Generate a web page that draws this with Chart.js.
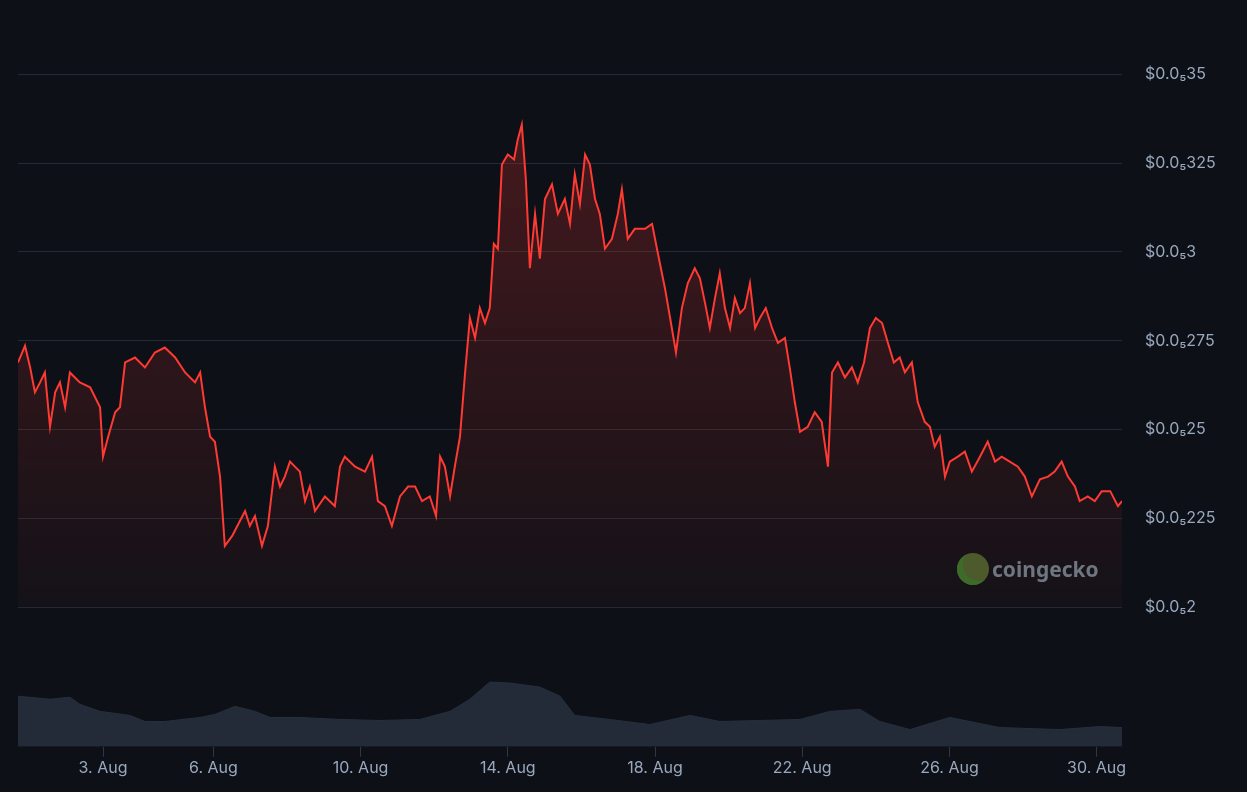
<!DOCTYPE html>
<html>
<head>
<meta charset="utf-8">
<script src="https://cdn.jsdelivr.net/npm/chart.js@4/dist/chart.umd.min.js"></script>
<style>
  html, body { margin: 0; padding: 0; background: #0d1117; }
  #wrap { position: relative; width: 1247px; height: 792px; overflow: hidden; }
  #priceBox { position: absolute; left: 0; top: 0; width: 1247px; height: 640px; }
  #volBox { position: absolute; left: 0; top: 640px; width: 1247px; height: 152px; }
  #logo { position: absolute; left: 957px; top: 553px; display: flex; align-items: center;
          font-family: "Noto Sans", sans-serif; font-weight: bold; font-size: 21px; color: #6e7681; }
  #logo .dot { width: 32px; height: 32px; border-radius: 50%; background: #4d5a2c; margin-right: 3px;
               box-shadow: inset 6px -4px 0 #3c6b2a; }
</style>
</head>
<body>
<div id="wrap">
  <div id="priceBox"><canvas id="price_chart"></canvas></div>
  <div id="volBox"><canvas id="volume_chart"></canvas></div>
  <div id="logo"><div class="dot"></div>coingecko</div>
</div>
<script>
// price in units of 1e-7 USD, x in days of August
const price_days = [0.69,0.88,1.02,1.15,1.29,1.42,1.56,1.70,1.83,1.97,2.10,2.37,2.65,2.92,3.00,3.14,3.33,3.46,3.60,3.87,4.14,4.41,4.68,4.96,5.23,5.50,5.64,5.77,5.91,6.04,6.18,6.31,6.51,6.72,6.86,6.99,7.13,7.32,7.48,7.67,7.81,7.94,8.08,8.35,8.49,8.62,8.76,9.03,9.30,9.44,9.57,9.85,10.12,10.31,10.47,10.66,10.85,11.07,11.29,11.48,11.67,11.88,12.05,12.16,12.29,12.43,12.56,12.70,12.84,12.97,13.11,13.24,13.38,13.51,13.62,13.73,13.84,14.00,14.17,14.27,14.38,14.49,14.60,14.74,14.87,15.01,15.20,15.36,15.55,15.69,15.82,15.96,16.10,16.23,16.37,16.50,16.64,16.83,16.99,17.10,17.26,17.45,17.73,17.92,18.08,18.27,18.41,18.57,18.73,18.89,19.08,19.22,19.36,19.49,19.63,19.76,19.90,20.04,20.17,20.31,20.44,20.58,20.72,20.85,21.01,21.18,21.34,21.53,21.66,21.80,21.94,22.15,22.34,22.53,22.70,22.81,22.97,23.16,23.35,23.51,23.68,23.84,24.00,24.17,24.33,24.49,24.65,24.79,24.98,25.14,25.33,25.47,25.60,25.74,25.88,26.01,26.23,26.42,26.61,26.83,27.04,27.24,27.42,27.64,27.86,28.05,28.24,28.46,28.68,28.86,29.05,29.22,29.41,29.54,29.76,29.95,30.14,30.37,30.58,30.69];
const price_values = [26.89,27.36,26.75,26.05,26.33,26.61,25.08,26.05,26.33,25.63,26.61,26.33,26.19,25.63,24.24,24.80,25.49,25.63,26.89,27.03,26.75,27.17,27.31,27.03,26.61,26.33,26.61,25.63,24.80,24.66,23.68,21.73,22.01,22.43,22.71,22.29,22.57,21.73,22.29,23.96,23.40,23.68,24.10,23.82,22.99,23.40,22.71,23.12,22.85,23.96,24.24,23.96,23.82,24.24,22.99,22.85,22.29,23.12,23.40,23.40,22.99,23.12,22.57,24.24,23.96,23.12,23.96,24.80,26.61,28.14,27.58,28.42,28.00,28.42,30.23,30.09,32.46,32.74,32.60,33.16,33.58,32.04,29.54,31.07,29.81,31.49,31.90,31.07,31.49,30.79,32.18,31.35,32.74,32.46,31.49,31.07,30.09,30.37,31.07,31.76,30.37,30.65,30.65,30.79,29.95,28.98,28.14,27.17,28.42,29.12,29.54,29.26,28.56,27.86,28.70,29.40,28.42,27.86,28.70,28.28,28.42,29.12,27.86,28.14,28.42,27.86,27.44,27.58,26.75,25.77,24.94,25.08,25.49,25.22,23.96,26.61,26.89,26.47,26.75,26.33,26.89,27.86,28.14,28.00,27.44,26.89,27.03,26.61,26.89,25.77,25.22,25.08,24.52,24.80,23.68,24.10,24.24,24.38,23.82,24.24,24.66,24.10,24.24,24.10,23.96,23.68,23.12,23.60,23.68,23.82,24.10,23.68,23.40,22.99,23.12,22.99,23.27,23.27,22.85,22.99];

const volume_days = [0.69,1.56,2.10,2.37,2.92,3.73,4.14,4.68,5.64,6.04,6.59,7.13,7.54,8.35,9.44,10.53,11.61,12.43,12.97,13.51,14.06,14.87,15.42,15.82,16.77,17.86,18.95,19.76,21.94,22.75,23.57,24.11,24.93,26.01,27.37,29.00,30.09,30.69];
const volume_values = [50,47,49,42,35,31,25,25,29,32,40,35,29,29,27,26,27,35,47,64,63,59,50,31,27,22,31,25,27,35,37,25,17,29,19,17,20,19];

const y_ticks = [20, 22.5, 25, 27.5, 30, 32.5, 35];
const y_tick_labels = ['$0.0₅2', '$0.0₅225', '$0.0₅25', '$0.0₅275', '$0.0₅3', '$0.0₅325', '$0.0₅35'];
const x_ticks = [3, 6, 10, 14, 18, 22, 26, 30];
const x_tick_labels = ['3. Aug', '6. Aug', '10. Aug', '14. Aug', '18. Aug', '22. Aug', '26. Aug', '30. Aug'];

const X_MIN = 0.69, X_MAX = 30.69;

function toPoints(xs, ys){
    return xs.map(function (x, i){ return {x: x, y: ys[i]}; });
}

function chart_price(){
    const ctx = document.getElementById('price_chart');
    new Chart(ctx, {
        type: 'line',
        data: {
            datasets: [{
                data: toPoints(price_days, price_values),
                borderColor: '#ff3a33',
                borderWidth: 2,
                pointRadius: 0,
                tension: 0,
                fill: 'start',
                backgroundColor: function (c){
                    const area = c.chart.chartArea;
                    if (!area) return 'rgba(255,58,51,0.1)';
                    const g = c.chart.ctx.createLinearGradient(0, area.top, 0, area.bottom);
                    g.addColorStop(0, 'rgba(200,45,45,0.35)');
                    g.addColorStop(1, 'rgba(200,45,45,0.04)');
                    return g;
                }
            }]
        },
        options: {
            responsive: true, maintainAspectRatio: false, animation: false,
            layout: {padding: {left: 18, top: 8, right: 0, bottom: 19}},
            plugins: {legend: {display: false}, tooltip: {enabled: false}},
            scales: {
                x: {type: 'linear', min: X_MIN, max: X_MAX, display: false},
                y: {
                    position: 'right', min: 20, max: 36.17,
                    afterBuildTicks: function (axis){ axis.ticks = y_ticks.map(function (v){ return {value: v}; }); },
                    afterFit: function (axis){ axis.width = 125; },
                    border: {display: false},
                    grid: {color: '#222a35', drawTicks: false},
                    ticks: {
                        padding: 23, crossAlign: 'near', color: '#9aa8bd',
                        font: {family: 'Inter', size: 16},
                        callback: function (v){ const i = y_ticks.indexOf(v); return i >= 0 ? y_tick_labels[i] : ''; }
                    }
                }
            }
        }
    });
}

function chart_volume(){
    const ctx = document.getElementById('volume_chart');
    new Chart(ctx, {
        type: 'line',
        data: {
            datasets: [{
                data: toPoints(volume_days, volume_values),
                borderColor: '#27303d',
                borderWidth: 1,
                pointRadius: 0,
                tension: 0,
                fill: 'start',
                backgroundColor: '#232b38'
            }]
        },
        options: {
            responsive: true, maintainAspectRatio: false, animation: false,
            layout: {padding: {left: 18, top: 40, right: 125, bottom: 12}},
            plugins: {legend: {display: false}, tooltip: {enabled: false}},
            scales: {
                x: {
                    type: 'linear', min: X_MIN, max: X_MAX,
                    afterBuildTicks: function (axis){ axis.ticks = x_ticks.map(function (v){ return {value: v}; }); },
                    border: {display: false},
                    grid: {drawOnChartArea: false, color: '#303846', tickLength: 10},
                    ticks: {
                        color: '#9aa8bd', padding: 2, maxRotation: 0,
                        font: {family: 'Inter', size: 16},
                        callback: function (v){ const i = x_ticks.indexOf(v); return i >= 0 ? x_tick_labels[i] : ''; }
                    }
                },
                y: {display: false, min: 0, max: 66}
            }
        }
    });
}

chart_price();
chart_volume();
</script>
</body>
</html>
